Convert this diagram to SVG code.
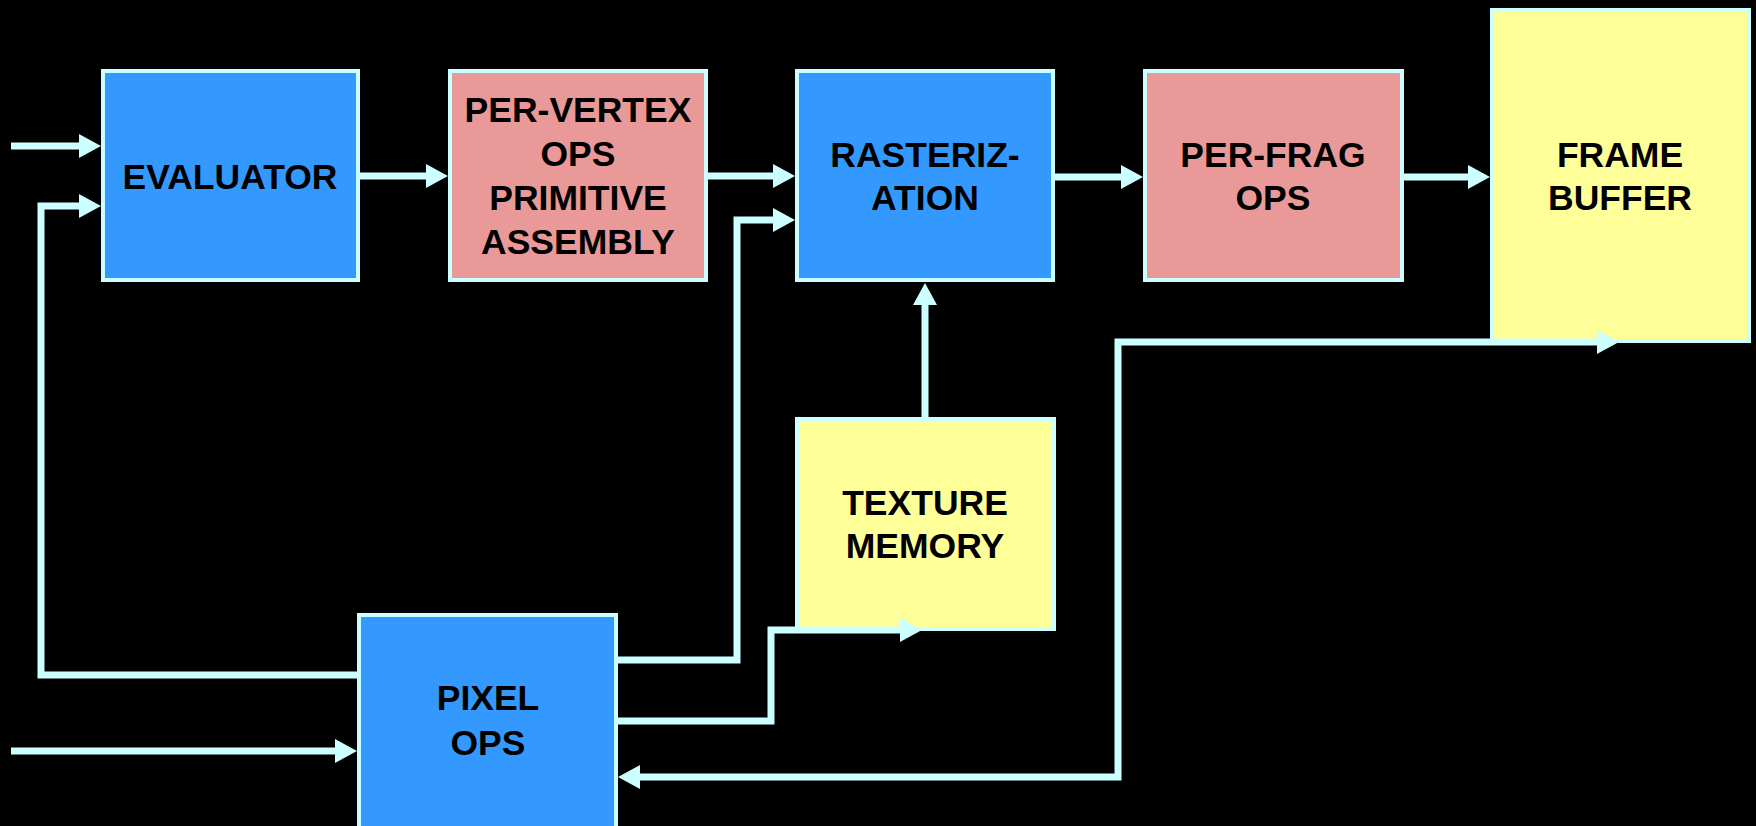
<svg xmlns="http://www.w3.org/2000/svg" width="1756" height="826" viewBox="0 0 1756 826">
<defs>
<style>
.box{stroke:#CCFFFF;stroke-width:4}
.blue{fill:#3399FF}
.pink{fill:#EA9999}
.yellow{fill:#FFFF99}
.lbl{font-family:"Liberation Sans",Arial,sans-serif;font-weight:bold;font-size:35.5px;fill:#000;text-anchor:middle}
.wire{fill:none;stroke:#CCFFFF;stroke-width:7;stroke-linejoin:miter}
</style>
<marker id="ah" markerUnits="userSpaceOnUse" markerWidth="22" markerHeight="24" refX="11" refY="12" orient="auto" viewBox="0 0 22 24">
<path d="M0,0 L22,12 L0,24 Z" fill="#CCFFFF"/>
</marker>
<marker id="ahs" markerUnits="userSpaceOnUse" markerWidth="22" markerHeight="24" refX="11" refY="12" orient="auto-start-reverse" viewBox="0 0 22 24">
<path d="M0,0 L22,12 L0,24 Z" fill="#CCFFFF"/>
</marker>
</defs>
<rect width="1756" height="826" fill="#000"/>
<g id="evaluator">
<rect class="box blue" x="103" y="71" width="255" height="209"/>
<text class="lbl" x="230" y="189">EVALUATOR</text>
</g>
<g id="per-vertex">
<rect class="box pink" x="450" y="71" width="256" height="209"/>
<text class="lbl" x="578" y="122">PER-VERTEX</text>
<text class="lbl" x="578" y="166">OPS</text>
<text class="lbl" x="578" y="210">PRIMITIVE</text>
<text class="lbl" x="578" y="254">ASSEMBLY</text>
</g>
<g id="rasterization">
<rect class="box blue" x="797" y="71" width="256" height="209"/>
<text class="lbl" x="925" y="167">RASTERIZ-</text>
<text class="lbl" x="925" y="210">ATION</text>
</g>
<g id="per-frag">
<rect class="box pink" x="1145" y="71" width="257" height="209"/>
<text class="lbl" x="1273" y="167">PER-FRAG</text>
<text class="lbl" x="1273" y="210">OPS</text>
</g>
<g id="frame-buffer">
<rect class="box yellow" x="1492" y="10" width="257" height="331"/>
<text class="lbl" x="1620" y="167">FRAME</text>
<text class="lbl" x="1620" y="210">BUFFER</text>
</g>
<g id="texture-memory">
<rect class="box yellow" x="797" y="419" width="257" height="210"/>
<text class="lbl" x="925" y="515">TEXTURE</text>
<text class="lbl" x="925" y="558">MEMORY</text>
</g>
<g id="pixel-ops">
<rect class="box blue" x="359" y="615" width="257" height="225"/>
<text class="lbl" x="488" y="710">PIXEL</text>
<text class="lbl" x="488" y="755">OPS</text>
</g>
<g id="connectors">
<path class="wire" d="M11,146 H90" marker-end="url(#ah)"/>
<path class="wire" d="M357,675 H41 V206 H90" marker-end="url(#ah)"/>
<path class="wire" d="M360,176 H437" marker-end="url(#ah)"/>
<path class="wire" d="M708,176 H784" marker-end="url(#ah)"/>
<path class="wire" d="M618,660 H737 V220 H784" marker-end="url(#ah)"/>
<path class="wire" d="M1055,177 H1132" marker-end="url(#ah)"/>
<path class="wire" d="M1404,177 H1479" marker-end="url(#ah)"/>
<path class="wire" d="M925,417 V294" marker-end="url(#ah)"/>
<path class="wire" d="M618,721 H771 V630 H911" marker-end="url(#ah)"/>
<path class="wire" d="M629,777 H1118 V342 H1608" marker-start="url(#ahs)" marker-end="url(#ah)"/>
<path class="wire" d="M11,751 H346" marker-end="url(#ah)"/>
</g>
</svg>
